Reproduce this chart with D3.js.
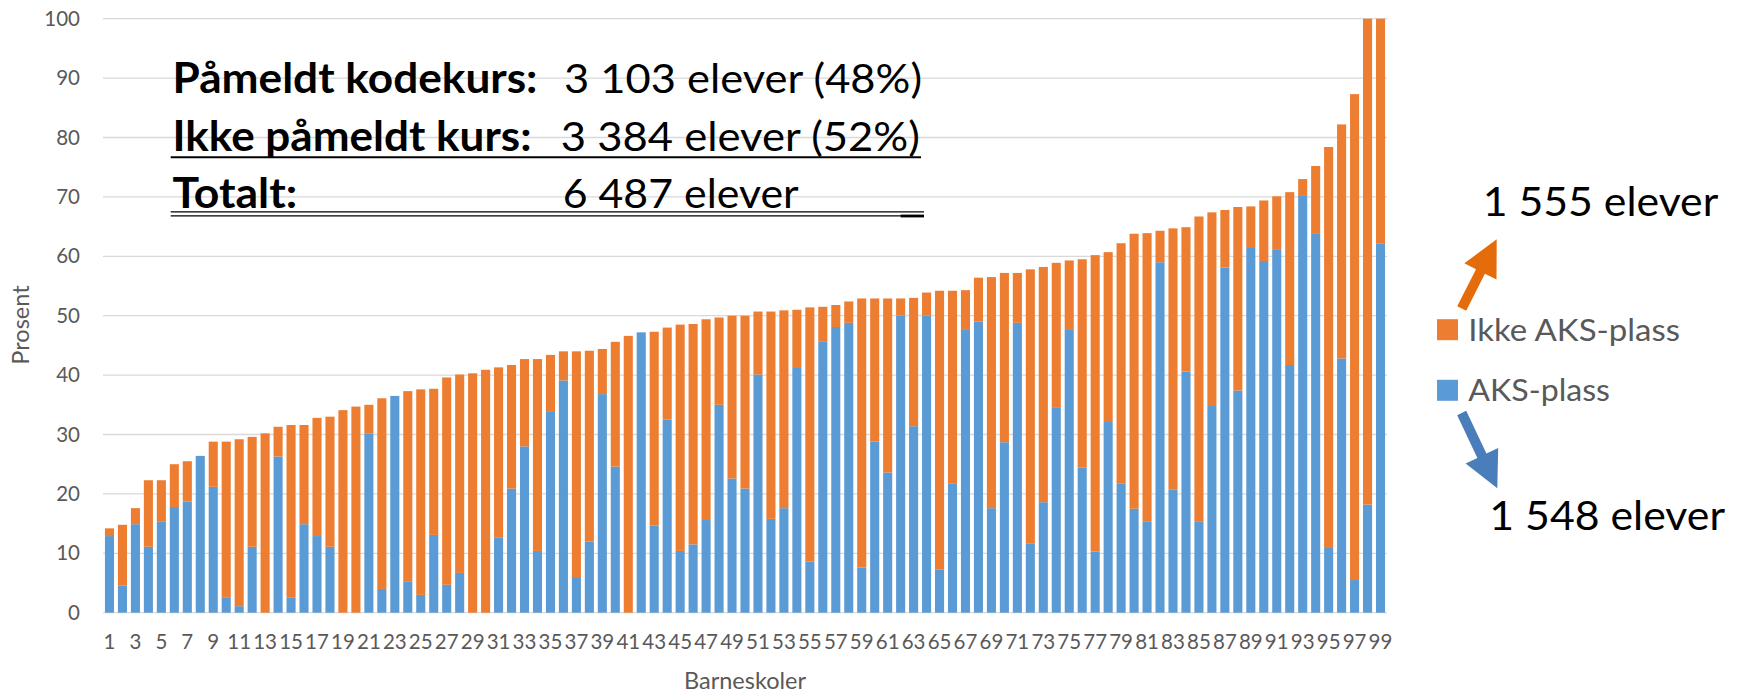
<!DOCTYPE html>
<html><head><meta charset="utf-8">
<script src="https://cdn.jsdelivr.net/npm/d3@7"></script>
<style>body{margin:0;background:#fff}svg{display:block}</style>
</head><body>
<svg id="chart" width="1744" height="695"></svg>
<script>
// ---------- DATA ----------
const categories = [1,2,3,4,5,6,7,8,9,10,11,12,13,14,15,16,17,18,19,20,21,22,23,24,25,26,27,28,29,30,31,32,33,34,35,36,37,38,39,40,41,42,43,44,45,46,47,48,49,50,51,52,53,54,55,56,57,58,59,60,61,62,63,64,65,66,67,68,69,70,71,72,73,74,75,76,77,78,79,80,81,82,83,84,85,86,87,88,89,90,91,92,93,94,95,96,97,98,99];
// AKS-plass (blue, bottom segment), percent
const aksPlass = [12.9,4.6,14.9,11.1,15.3,17.8,18.7,26.4,21.2,2.5,1.1,11.1,0,26.3,2.6,14.9,12.9,11.1,0,0,30.2,4.0,36.5,5.2,3.0,13.1,4.7,6.7,0,0,12.7,20.9,28.0,10.4,33.8,39.1,6.0,12.0,36.8,24.6,0,47.2,14.7,32.5,10.4,11.5,15.6,35.0,22.6,20.9,40.1,15.8,17.6,41.2,8.6,45.6,48.1,48.8,7.6,28.8,23.6,50.0,31.4,50.0,7.3,21.7,47.6,49.0,17.6,28.7,48.8,11.6,18.6,34.6,47.6,24.4,10.3,32.1,21.7,17.5,15.3,59.0,20.7,40.6,15.4,34.8,58.1,37.4,61.4,59.2,61.2,41.7,70.3,63.9,10.9,42.8,5.5,18.2,62.1];
// Ikke AKS-plass (orange, top segment), percent
const ikkeAksPlass = [1.3,10.2,2.7,11.2,7.0,7.2,6.8,0,7.6,26.3,28.1,18.5,30.2,5.0,29.0,16.7,19.9,21.9,34.1,34.7,4.8,32.1,0,32.1,34.6,24.6,34.9,33.4,40.3,40.9,28.6,20.8,14.7,32.3,9.6,4.9,38.0,32.1,7.6,21.0,46.6,0,32.6,15.5,38.1,37.1,33.8,14.7,27.4,29.1,10.6,34.9,33.3,9.8,42.8,5.9,3.7,3.6,45.3,24.1,29.3,2.9,21.6,3.9,46.9,32.5,6.7,7.4,38.9,28.5,8.4,46.2,39.6,24.3,11.7,35.1,49.9,28.6,40.5,46.3,48.6,5.3,44.0,24.3,51.3,32.6,9.7,30.9,7.0,10.2,8.9,29.1,2.7,11.3,67.5,39.4,81.8,81.8,37.9];
const seriesNames = ["AKS-plass", "Ikke AKS-plass"];
const seriesColors = ["#5B9BD5", "#ED7D31"];
const yTicks = [0,10,20,30,40,50,60,70,80,90,100];
const xTickLabels = [1,3,5,7,9,11,13,15,17,19,21,23,25,27,29,31,33,35,37,39,41,43,45,47,49,51,53,55,57,59,61,63,65,67,69,71,73,75,77,79,81,83,85,87,89,91,93,95,97,99];
const yTitle = "Prosent";
const xTitle = "Barneskoler";
const summaryLabels = ["Påmeldt kodekurs:", "Ikke påmeldt kurs:", "Totalt:"];
const summaryValues = ["3 103 elever (48%)", "3 384 elever (52%)", "6 487 elever"];
const legendOrder = ["Ikke AKS-plass", "AKS-plass"];
const arrowNotes = ["1 555 elever", "1 548 elever"];

(function () {
// ---------- SETUP ----------
const svg = d3.select("#chart");
const FONT = "Lato, 'Open Sans', sans-serif";
const GRAY = "#595959";
const pLeft = 103, pRight = 1387, pTop = 18.7, pBottom = 612.7;

const x = d3.scaleBand().domain(categories).range([pLeft, pRight]).paddingInner(0.3).paddingOuter(0.15);
const y = d3.scaleLinear().domain([0, 100]).range([pBottom, pTop]);

// gridlines
svg.append("g").selectAll("line").data(yTicks).join("line")
  .attr("x1", pLeft).attr("x2", pRight)
  .attr("y1", d => y(d)).attr("y2", d => y(d))
  .attr("stroke", "#D9D9D9").attr("stroke-width", 1.3);

// stacked bars
const rows = categories.map((c, i) => ({cat: c, aks: aksPlass[i], ikke: ikkeAksPlass[i]}));
const stack = d3.stack().keys(["aks", "ikke"])(rows);
svg.append("g").selectAll("g").data(stack).join("g")
  .attr("fill", (d, i) => seriesColors[i])
  .selectAll("rect").data(d => d).join("rect")
  .attr("x", d => x(d.data.cat))
  .attr("width", x.bandwidth())
  .attr("y", d => y(d[1]))
  .attr("height", d => Math.max(0, y(d[0]) - y(d[1])));

// axes
const yAxis = svg.append("g").attr("transform", `translate(${pLeft},0)`)
  .call(d3.axisLeft(y).tickValues(yTicks).tickSize(0).tickPadding(23));
yAxis.select(".domain").remove();
yAxis.selectAll("text").attr("font-family", FONT).attr("font-size", 20.5).attr("fill", GRAY);

const xAxis = svg.append("g").attr("transform", `translate(0,${pBottom})`)
  .call(d3.axisBottom(x).tickValues(xTickLabels).tickSize(0).tickPadding(22));
xAxis.select(".domain").remove();
xAxis.selectAll("text").attr("font-family", FONT).attr("font-size", 20.5).attr("fill", GRAY);

// axis titles
svg.append("text").attr("transform", "translate(29,325) rotate(-90)")
  .attr("text-anchor", "middle").attr("font-family", FONT).attr("font-size", 23.5)
  .attr("fill", GRAY).text(yTitle);
svg.append("text").attr("x", (pLeft + pRight) / 2).attr("y", 689)
  .attr("text-anchor", "middle").attr("font-family", FONT).attr("font-size", 23.5)
  .attr("fill", GRAY).text(xTitle);

// summary text block
const sumBase = [92.7, 150.7, 208.3];
const sumLabelLen = [365, 359, 124.7];
const sumValX = [564, 560.7, 562.7];
const sumValLen = [358, 359.3, 236];
const tb = svg.append("g");
summaryLabels.forEach((t, i) => {
  tb.append("text").attr("x", 172.5).attr("y", sumBase[i])
    .attr("font-family", FONT).attr("font-weight", 700).attr("font-size", 42)
    .attr("fill", "#000").attr("textLength", sumLabelLen[i]).attr("lengthAdjust", "spacingAndGlyphs")
    .text(t);
  tb.append("text").attr("x", sumValX[i]).attr("y", sumBase[i])
    .attr("font-family", FONT).attr("font-weight", 400).attr("font-size", 41)
    .attr("fill", "#000").attr("textLength", sumValLen[i]).attr("lengthAdjust", "spacingAndGlyphs")
    .text(summaryValues[i]);
});
tb.append("line").attr("x1", 170.7).attr("x2", 921).attr("y1", 157.3).attr("y2", 157.3)
  .attr("stroke", "#000").attr("stroke-width", 2);
tb.append("line").attr("x1", 170.7).attr("x2", 924).attr("y1", 211.8).attr("y2", 211.8)
  .attr("stroke", "#000").attr("stroke-width", 1.3);
tb.append("line").attr("x1", 170.7).attr("x2", 924).attr("y1", 215.8).attr("y2", 215.8)
  .attr("stroke", "#000").attr("stroke-width", 1.3);
tb.append("rect").attr("x", 900.7).attr("y", 214.6).attr("width", 23.3).attr("height", 2.8).attr("fill", "#000");

// legend
const legY = [329.7, 390.3];
const legLen = [211.7, 141.7];
const lg = svg.append("g");
legendOrder.forEach((name, i) => {
  const ci = seriesNames.indexOf(name);
  lg.append("rect").attr("x", 1437).attr("y", legY[i] - 10.5).attr("width", 21).attr("height", 21)
    .attr("fill", seriesColors[ci]);
  lg.append("text").attr("x", 1468.3).attr("y", legY[i] + 11)
    .attr("font-family", FONT).attr("font-size", 31).attr("fill", GRAY)
    .attr("textLength", legLen[i]).attr("lengthAdjust", "spacingAndGlyphs").text(name);
});

// arrows
function arrow(tail, tip, color) {
  const dx = tip[0] - tail[0], dy = tip[1] - tail[1];
  const L = Math.hypot(dx, dy), ux = dx / L, uy = dy / L, px = -uy, py = ux;
  const sw = 5, hl = 36, hw = 18;
  const nx = tip[0] - ux * hl, ny = tip[1] - uy * hl;
  const pts = [
    [tail[0] + px * sw, tail[1] + py * sw],
    [nx + px * sw, ny + py * sw],
    [nx + px * hw, ny + py * hw],
    tip,
    [nx - px * hw, ny - py * hw],
    [nx - px * sw, ny - py * sw],
    [tail[0] - px * sw, tail[1] - py * sw]
  ];
  svg.append("path").attr("d", d3.line()(pts) + "Z").attr("fill", color);
}
arrow([1461.7, 308.5], [1496.7, 239.3], "#E46C0A");
arrow([1461.7, 413], [1497.3, 488.3], "#4A7EBB");

// arrow notes
svg.append("text").attr("x", 1482.7).attr("y", 215.7).attr("font-family", FONT).attr("font-size", 40)
  .attr("fill", "#000").attr("textLength", 235.6).attr("lengthAdjust", "spacingAndGlyphs").text(arrowNotes[0]);
svg.append("text").attr("x", 1489.3).attr("y", 530).attr("font-family", FONT).attr("font-size", 40)
  .attr("fill", "#000").attr("textLength", 235.7).attr("lengthAdjust", "spacingAndGlyphs").text(arrowNotes[1]);
})();
</script>
</body></html>
